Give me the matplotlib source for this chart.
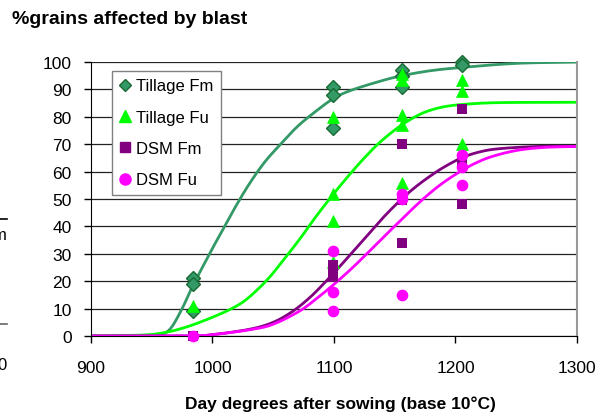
import matplotlib
matplotlib.use("Agg")
import matplotlib.pyplot as plt
from matplotlib.lines import Line2D
import numpy as np

plt.rcParams['font.family'] = ['Liberation Sans', 'DejaVu Sans']

# ---- observed points ----
tfm_x = [984, 984, 984, 1099, 1099, 1099, 1156, 1156, 1156, 1205, 1205]
tfm_y = [21, 19, 9, 91, 88, 76, 97, 95, 91, 100, 99]

tfu_x = [984, 1099, 1099, 1099, 1099, 1156, 1156, 1156, 1156, 1156, 1205, 1205, 1205]
tfu_y = [11, 80, 52, 42, 27, 95.5, 93.5, 80.5, 77, 56, 93.5, 89.5, 70]

dfm_x = [984, 1099, 1099, 1099, 1156, 1156, 1156, 1205, 1205, 1205]
dfm_y = [0, 26, 24, 21.5, 70, 49.5, 34, 83, 64, 48]

dfu_x = [984, 1099, 1099, 1099, 1156, 1156, 1156, 1205, 1205, 1205]
dfu_y = [0, 31, 16, 9, 52, 50, 15, 66, 61.5, 55]

# ---- fitted curves ----
cfm_x = [900, 940, 955, 965, 975, 984, 1000, 1010, 1020, 1031, 1043, 1056, 1070, 1085, 1099, 1113, 1138, 1156, 1179, 1205, 1250, 1300]
cfm_y = [0, 0, 0.3, 2.5, 10, 18.5, 32, 40, 48, 56, 63.5, 70, 76.5, 82, 86.5, 89.5, 93, 95, 96.8, 98, 99.5, 100]

cfu_x = [900, 940, 960, 980, 1003, 1020, 1031, 1045, 1058, 1072, 1085, 1099, 1112, 1125, 1138, 1154, 1168, 1180, 1195, 1215, 1240, 1300]
cfu_y = [0, 0.3, 1.2, 3.5, 7.4, 11, 14.5, 20.5, 27.5, 35.5, 43.5, 51.5, 58.5, 65, 70.8, 76.5, 80.3, 82.5, 84, 84.8, 85.2, 85.3]

cdm_x = [900, 980, 1000, 1031, 1050, 1066, 1080, 1092, 1104, 1116, 1128, 1140, 1154, 1166, 1178, 1190, 1205, 1220, 1237, 1270, 1300]
cdm_y = [0, 0, 0.5, 2.5, 5, 9, 14, 19.3, 25, 31, 37, 43, 49.3, 54, 58, 61.5, 65, 67.2, 68.4, 69.2, 69.2]

cdu_x = [900, 980, 1000, 1031, 1050, 1072, 1086, 1099, 1113, 1127, 1140, 1154, 1166, 1178, 1190, 1203, 1216, 1230, 1250, 1272, 1300]
cdu_y = [0, 0, 0.5, 2.3, 4.3, 9.2, 13.8, 18.5, 24, 30, 35.8, 41.8, 47, 51.8, 56, 59.8, 63, 65.5, 67.7, 68.8, 69.2]

labels = ["Tillage Fm", "Tillage Fu", "DSM Fm", "DSM Fu"]
xticks = [900, 1000, 1100, 1200, 1300]
yticks = list(range(0, 101, 10))

c_tfm = '#339966'
c_tfm_edge = '#1a6b33'
c_tfu = '#00ff00'
c_dfm = '#800080'
c_dfu = '#ff00ff'


def smooth(xs, ys, n=12):
    """Catmull-Rom smoothing of a polyline (like a spreadsheet 'smoothed line')."""
    x = np.asarray(xs, float)
    y = np.asarray(ys, float)
    px = np.concatenate([[2 * x[0] - x[1]], x, [2 * x[-1] - x[-2]]])
    py = np.concatenate([[2 * y[0] - y[1]], y, [2 * y[-1] - y[-2]]])
    outx, outy = [], []
    t = np.linspace(0, 1, n, endpoint=False)
    for i in range(1, len(px) - 2):
        for P, out in ((px, outx), (py, outy)):
            p0, p1, p2, p3 = P[i - 1], P[i], P[i + 1], P[i + 2]
            out.extend(0.5 * ((2 * p1) + (-p0 + p2) * t
                              + (2 * p0 - 5 * p1 + 4 * p2 - p3) * t ** 2
                              + (-p0 + 3 * p1 - 3 * p2 + p3) * t ** 3))
    outx.append(x[-1])
    outy.append(y[-1])
    return np.array(outx), np.clip(np.array(outy), 0, None)


fig = plt.figure(figsize=(6.02, 4.14), dpi=100)
ax = fig.add_axes([91/602, 1-337/414, (577-91)/602, (337-63)/414])

for y in yticks:
    ax.axhline(y, color='#222222', lw=0.9, zorder=1)

for cx, cy, col in ((cfm_x, cfm_y, c_tfm), (cfu_x, cfu_y, c_tfu),
                    (cdm_x, cdm_y, c_dfm), (cdu_x, cdu_y, c_dfu)):
    sx, sy = smooth(cx, cy)
    ax.plot(sx, sy, color=col, lw=2, zorder=2, solid_capstyle='butt')

ax.plot(tfm_x, tfm_y, 'D', ms=7.5, mfc=c_tfm, mec=c_tfm_edge, mew=1, zorder=3, clip_on=False)
ax.plot(tfu_x, tfu_y, '^', ms=9, mfc=c_tfu, mec=c_tfu, mew=0.5, zorder=4, clip_on=False)
ax.plot(dfm_x, dfm_y, 's', ms=7.2, mfc=c_dfm, mec=c_dfm, mew=0, zorder=5, clip_on=False)
ax.plot(dfu_x, dfu_y, 'o', ms=8.4, mfc=c_dfu, mec=c_dfu, mew=0, zorder=6, clip_on=False)

ax.set_xlim(900, 1300)
ax.set_ylim(0, 100)
ax.set_xticks(xticks)
ax.set_yticks(yticks)
ax.tick_params(axis='both', direction='out', length=5, width=1, labelsize=12.5, color='black')
ax.tick_params(axis='x', pad=12)
ax.tick_params(axis='y', pad=9)

ax.spines['top'].set_visible(False)
ax.spines['right'].set_color('#999999')
ax.spines['right'].set_linewidth(1.5)
ax.spines['left'].set_color('black')
ax.spines['bottom'].set_color('black')

handles = [
    Line2D([], [], ls='none', marker='D', ms=6.5, mfc=c_tfm, mec=c_tfm_edge, mew=1),
    Line2D([], [], ls='none', marker='^', ms=9, mfc=c_tfu, mec=c_tfu),
    Line2D([], [], ls='none', marker='s', ms=7.5, mfc=c_dfm, mec=c_dfm),
    Line2D([], [], ls='none', marker='o', ms=8, mfc=c_dfu, mec=c_dfu),
]
leg = ax.legend(handles, labels, loc='upper left', bbox_to_anchor=((112-91)/486, (337-72)/274),
                borderaxespad=0, fontsize=12, frameon=True, fancybox=False, framealpha=1,
                edgecolor='#808080', handlelength=0.7, handletextpad=0.3, labelspacing=0.98,
                borderpad=0.45)
leg.get_frame().set_linewidth(1)
leg.set_zorder(10)

fig.text(12/602, 1-20/414, "%grains affected by blast", fontsize=14, fontweight='bold',
         ha='left', va='center')
fig.text(340/602, 1-404/414, "Day degrees after sowing (base 10°C)", fontsize=12.5,
         fontweight='bold', ha='center', va='center')

# cropped remnants at left edge (they are cut in the original too)
fig.add_artist(Line2D([0, 7/602], [1-220/414, 1-220/414], color='black', lw=1.2))
fig.add_artist(Line2D([0, 7/602], [1-325/414, 1-325/414], color='#666666', lw=1.2))
fig.text(7/602, 1-236/414, "m", fontsize=12, ha='right', va='center')
fig.text(7/602, 1-366/414, "0", fontsize=12, ha='right', va='center')

fig.savefig("out.png", dpi=100)
